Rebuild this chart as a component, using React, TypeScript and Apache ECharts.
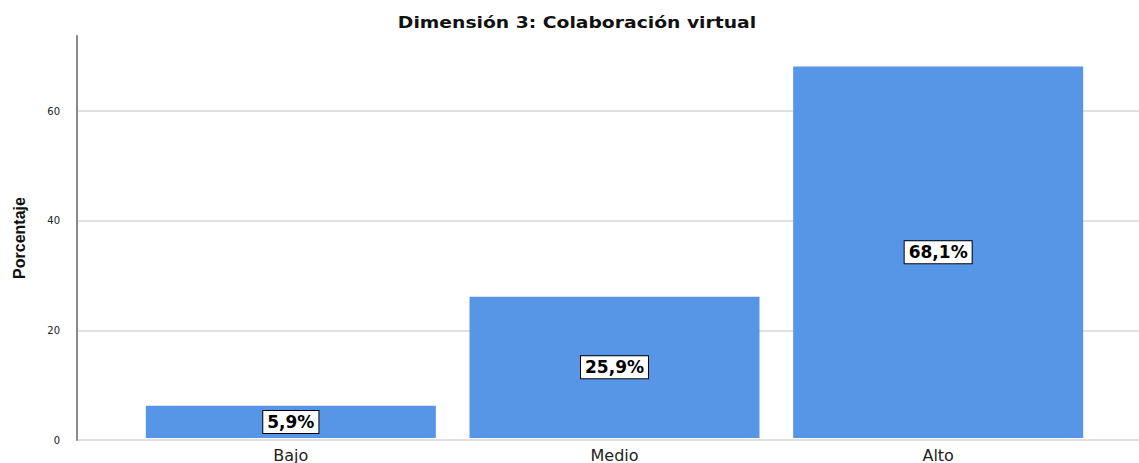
import React, { useEffect, useRef } from "react";
import * as echarts from "echarts";

const titleText = "Dimensión 3: Colaboración virtual";
const categories = ["Bajo", "Medio", "Alto"];
const values = [5.9, 25.9, 68.1];
const valueLabels = ["5,9%", "25,9%", "68,1%"];
const yTicks = [0, 20, 40, 60];

export default function App() {
  const ref = useRef<HTMLDivElement>(null);
  useEffect(() => {
    document.body.style.margin = "0";
    const chart = echarts.init(ref.current!, null, { renderer: "svg" });
    const top = 36;
    const bottom = 23;
    const yMax = 73.7;
    chart.setOption({
      animation: false,
      backgroundColor: "#ffffff",
      graphic: [
        {
          type: "text",
          x: 577,
          y: 23,
          scaleX: 1.25,
          style: {
            text: titleText,
            textAlign: "center",
            textVerticalAlign: "middle",
            fontFamily: "DejaVu Sans",
            fontSize: 15,
            fontWeight: "bold",
            fill: "#111",
          },
        },
      ],
      grid: [
        { left: 77, right: 0, top, bottom },
        { left: 129, width: 971, top, bottom },
      ],
      xAxis: [
        { type: "category", gridIndex: 0, data: categories, show: false },
        {
          type: "category",
          gridIndex: 1,
          data: categories,
          axisLine: { show: false },
          axisTick: { show: false },
          axisLabel: { fontFamily: "DejaVu Sans", fontSize: 16, color: "#222", margin: 9 },
        },
      ],
      yAxis: [
        {
          type: "value",
          gridIndex: 0,
          min: 0,
          max: yMax,
          interval: 20,
          name: "Porcentaje",
          nameLocation: "middle",
          nameGap: 50,
          nameTextStyle: { fontFamily: "Liberation Sans Narrow, Liberation Sans", fontSize: 16, fontWeight: "bold", color: "#111" },
          axisLine: { show: true, lineStyle: { color: "#8a8a8a", width: 2 } },
          axisTick: { show: false },
          axisLabel: {
            fontFamily: "DejaVu Sans",
            fontSize: 10,
            color: "#222",
            margin: 17,
            showMaxLabel: false,
            formatter: (v: number) => (yTicks.includes(v) ? String(v) : ""),
          },
          splitLine: { show: true, showMaxLine: false, lineStyle: { color: "#d6d6d6", width: 1.5 } },
        },
        { type: "value", gridIndex: 1, min: 0, max: yMax, show: false },
      ],
      series: [
        {
          type: "bar",
          xAxisIndex: 1,
          yAxisIndex: 1,
          data: values,
          barWidth: "89.6%",
          itemStyle: { color: "#5796e6" },
          label: {
            show: true,
            position: "inside",
            formatter: (p: any) => valueLabels[p.dataIndex],
            fontFamily: "DejaVu Sans",
            fontSize: 17,
            fontWeight: "bold",
            color: "#000",
            backgroundColor: "#ffffff",
            borderColor: "#000",
            borderWidth: 1,
            padding: [3, 4, 2, 4],
          },
        },
      ],
    });
    return () => chart.dispose();
  }, []);
  return <div ref={ref} style={{ width: 1139, height: 463 }} />;
}
